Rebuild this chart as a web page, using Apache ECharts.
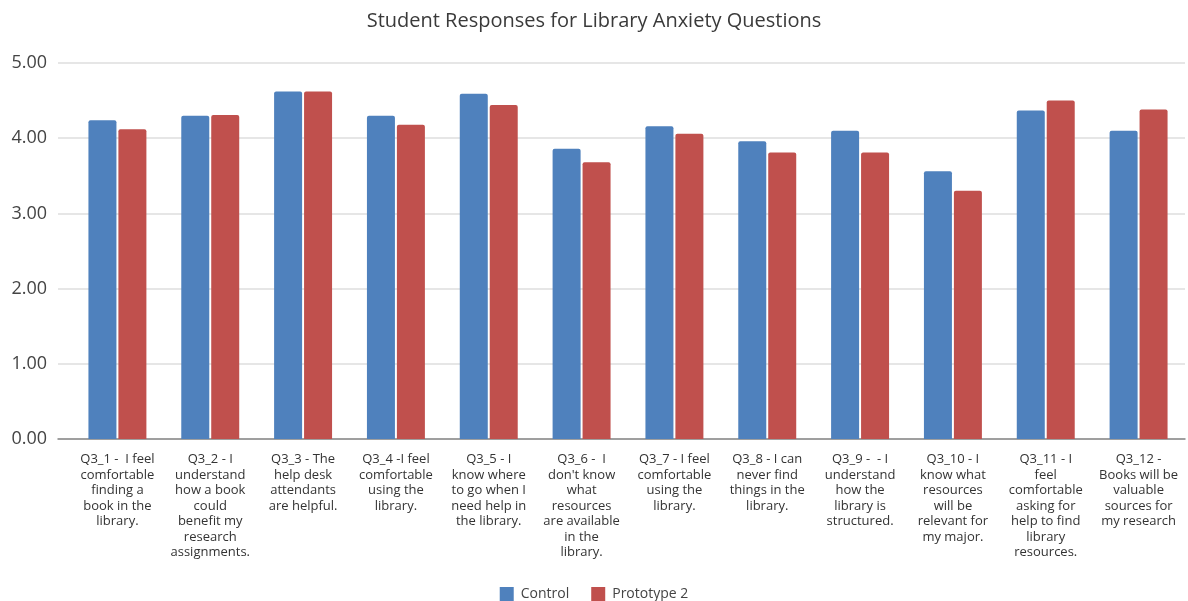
<!DOCTYPE html>
<html>
<head>
<meta charset="utf-8">
<script src="https://cdn.jsdelivr.net/npm/echarts@6/dist/echarts.min.js"></script>
<style>
  html, body { margin: 0; padding: 0; background: #fff; }
  #chart { width: 1188px; height: 601px; }
</style>
</head>
<body>
<div id="chart"></div>
<script>
var categories = [
  'Q3_1 -  I feel\ncomfortable\nfinding a\nbook in the\nlibrary.',
  'Q3_2 - I\nunderstand\nhow a book\ncould\nbenefit my\nresearch\nassignments.',
  'Q3_3 - The\nhelp desk\nattendants\nare helpful.',
  'Q3_4 -I feel\ncomfortable\nusing the\nlibrary.',
  'Q3_5 - I\nknow where\nto go when I\nneed help in\nthe library.',
  'Q3_6 -  I\ndon\'t know\nwhat\nresources\nare available\nin the\nlibrary.',
  'Q3_7 - I feel\ncomfortable\nusing the\nlibrary.',
  'Q3_8 - I can\nnever find\nthings in the\nlibrary.',
  'Q3_9 -  - I\nunderstand\nhow the\nlibrary is\nstructured.',
  'Q3_10 - I\nknow what\nresources\nwill be\nrelevant for\nmy major.',
  'Q3_11 - I\nfeel\ncomfortable\nasking for\nhelp to find\nlibrary\nresources.',
  'Q3_12 -\nBooks will be\nvaluable\nsources for\nmy research'
]
var control = [4.24, 4.30, 4.62, 4.30, 4.59, 3.86, 4.16, 3.96, 4.10, 3.56, 4.37, 4.10]
var prototype2 = [4.12, 4.31, 4.62, 4.18, 4.44, 3.68, 4.06, 3.81, 3.81, 3.30, 4.50, 4.38]
var yTicks = [0, 1, 2, 3, 4, 5]

var font = 'Open Sans'
var chart = echarts.init(document.getElementById('chart'))
chart.setOption({
  animation: false,
  title: {
    left: 'center',
    top: 6,
    text: 'Student Responses for Library Anxiety Questions',
    textStyle: {
      color: '#3a3a3a',
      fontSize: 20,
      fontWeight: 'normal',
      fontFamily: font
    }
  },
  // grid 0 carries the gridlines / y labels, grid 1 the bars
  grid: [
    { left: 58, right: 3, top: 63, bottom: 162 },
    { left: 71, right: 3, top: 63, bottom: 162 }
  ],
  legend: {
    data: ['Control', 'Prototype 2'],
    top: 582,
    left: 'center',
    itemWidth: 14,
    itemHeight: 14,
    itemGap: 22,
    icon: 'rect',
    textStyle: {
      color: '#444',
      fontSize: 14,
      fontFamily: font,
      padding: [0, 0, 0, 2]
    }
  },
  xAxis: [{
    gridIndex: 0,
    type: 'category',
    data: categories,
    axisLine: { lineStyle: { color: '#888', width: 1.5 } },
    axisTick: { show: false },
    axisLabel: { show: false }
  }, {
    gridIndex: 1,
    type: 'category',
    data: categories,
    axisLine: { show: false },
    axisTick: { show: false },
    axisLabel: {
      interval: 0,
      color: '#333',
      fontSize: 13,
      lineHeight: 15.5,
      margin: 13,
      fontFamily: font
    }
  }],
  yAxis: [{
    gridIndex: 0,
    type: 'value',
    min: yTicks[0],
    max: yTicks[yTicks.length - 1],
    interval: 1,
    axisLine: { show: false },
    axisTick: { show: false },
    splitLine: { lineStyle: { color: '#dedede', width: 1.5 } },
    axisLabel: {
      color: '#444',
      fontSize: 18,
      margin: 11,
      fontFamily: font,
      formatter: function (v) { return v.toFixed(2) }
    }
  }, {
    gridIndex: 1,
    type: 'value',
    min: yTicks[0],
    max: yTicks[yTicks.length - 1],
    interval: 1,
    axisLine: { show: false },
    axisTick: { show: false },
    splitLine: { show: false },
    axisLabel: { show: false }
  }],
  series: [{
    name: 'Control',
    type: 'bar',
    xAxisIndex: 1,
    yAxisIndex: 1,
    data: control,
    barWidth: 28,
    barGap: '7%',
    itemStyle: { color: '#4f81bd', borderRadius: [2, 2, 0, 0] }
  }, {
    name: 'Prototype 2',
    type: 'bar',
    xAxisIndex: 1,
    yAxisIndex: 1,
    data: prototype2,
    barWidth: 28,
    itemStyle: { color: '#c0504d', borderRadius: [2, 2, 0, 0] }
  }]
})
</script>
</body>
</html>
